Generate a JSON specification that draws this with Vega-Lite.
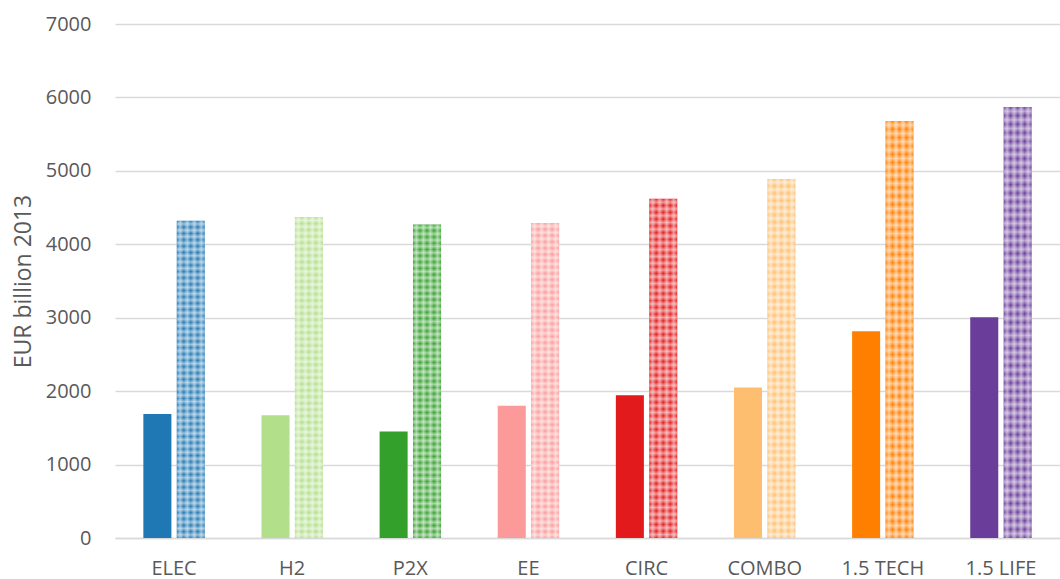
{
  "$schema": "https://vega.github.io/schema/vega-lite/v6.json",
  "autosize": {"type": "none"},
  "width": 945,
  "height": 514,
  "padding": {"left": 115, "top": 24, "right": 0, "bottom": 41},
  "background": "white",
  "config": {
    "view": {"stroke": null},
    "font": "Open Sans",
    "axis": {"labelFont": "Open Sans", "titleFont": "Open Sans", "labelColor": "#595959", "titleColor": "#595959"}
  },
  "data": {
    "values": [
      {"scenario": "ELEC", "type": "A", "value": 1690},
      {"scenario": "ELEC", "type": "B", "value": 4320},
      {"scenario": "H2", "type": "A", "value": 1670},
      {"scenario": "H2", "type": "B", "value": 4370},
      {"scenario": "P2X", "type": "A", "value": 1450},
      {"scenario": "P2X", "type": "B", "value": 4270},
      {"scenario": "EE", "type": "A", "value": 1800},
      {"scenario": "EE", "type": "B", "value": 4290},
      {"scenario": "CIRC", "type": "A", "value": 1945},
      {"scenario": "CIRC", "type": "B", "value": 4620},
      {"scenario": "COMBO", "type": "A", "value": 2050},
      {"scenario": "COMBO", "type": "B", "value": 4890},
      {"scenario": "1.5 TECH", "type": "A", "value": 2815},
      {"scenario": "1.5 TECH", "type": "B", "value": 5680},
      {"scenario": "1.5 LIFE", "type": "A", "value": 3005},
      {"scenario": "1.5 LIFE", "type": "B", "value": 5870}
    ]
  },
  "encoding": {
    "x": {
      "field": "scenario", "type": "nominal",
      "sort": ["ELEC", "H2", "P2X", "EE", "CIRC", "COMBO", "1.5 TECH", "1.5 LIFE"],
      "scale": {"paddingInner": 0.48, "paddingOuter": 0.24},
      "axis": {"title": null, "labelAngle": 0, "labelFontSize": 20, "labelPadding": 20, "ticks": false, "domainColor": "#d9d9d9", "domainWidth": 1.5, "grid": false}
    },
    "xOffset": {"field": "type", "type": "nominal", "scale": {"paddingInner": 0.16}},
    "y": {
      "field": "value", "type": "quantitative",
      "scale": {"domain": [0, 7000], "nice": false},
      "axis": {"title": "EUR billion 2013", "format": "d", "values": [0, 1000, 2000, 3000, 4000, 5000, 6000, 7000], "labelFontSize": 20, "titleFontSize": 23, "titleFontWeight": "normal", "labelPadding": 24, "titlePadding": 10, "ticks": false, "domain": false, "gridColor": "#d9d9d9", "gridWidth": 1.5}
    }
  },
  "layer": [
    {
      "mark": {"type": "bar"},
      "encoding": {
        "color": {
          "field": "scenario", "type": "nominal", "legend": null,
          "scale": {
            "domain": ["ELEC", "H2", "P2X", "EE", "CIRC", "COMBO", "1.5 TECH", "1.5 LIFE"],
            "range": ["#1f78b4", "#b2df8a", "#33a02c", "#fb9a99", "#e31a1c", "#fdbf6f", "#ff7f00", "#6a3d9a"]
          }
        }
      }
    },
    {
      "transform": [{"filter": "datum.type === 'B'"}],
      "mark": {
        "type": "bar",
        "color": {
          "gradient": "linear", "x1": 0, "y1": 0, "x2": 1, "y2": 0,
          "stops": [
            {"offset": 0, "color": "rgba(255,255,255,0)"},
            {"offset": 0.125, "color": "rgba(255,255,255,0.5)"},
            {"offset": 0.25, "color": "rgba(255,255,255,0)"},
            {"offset": 0.375, "color": "rgba(255,255,255,0.5)"},
            {"offset": 0.5, "color": "rgba(255,255,255,0)"},
            {"offset": 0.625, "color": "rgba(255,255,255,0.5)"},
            {"offset": 0.75, "color": "rgba(255,255,255,0)"},
            {"offset": 0.875, "color": "rgba(255,255,255,0.5)"},
            {"offset": 1, "color": "rgba(255,255,255,0)"}
          ]
        }
      }
    },
    {
      "transform": [{"filter": "datum.type === 'B'"}],
      "mark": {
        "type": "bar",
        "color": {
          "gradient": "linear", "x1": 0, "y1": 0, "x2": 0, "y2": 1,
          "stops": [
            {"offset": 0.00, "color": "rgba(255,255,255,0)"},
            {"offset": 0.01, "color": "rgba(255,255,255,0.5)"},
            {"offset": 0.02, "color": "rgba(255,255,255,0)"},
            {"offset": 0.03, "color": "rgba(255,255,255,0.5)"},
            {"offset": 0.04, "color": "rgba(255,255,255,0)"},
            {"offset": 0.05, "color": "rgba(255,255,255,0.5)"},
            {"offset": 0.06, "color": "rgba(255,255,255,0)"},
            {"offset": 0.07, "color": "rgba(255,255,255,0.5)"},
            {"offset": 0.08, "color": "rgba(255,255,255,0)"},
            {"offset": 0.09, "color": "rgba(255,255,255,0.5)"},
            {"offset": 0.10, "color": "rgba(255,255,255,0)"},
            {"offset": 0.11, "color": "rgba(255,255,255,0.5)"},
            {"offset": 0.12, "color": "rgba(255,255,255,0)"},
            {"offset": 0.13, "color": "rgba(255,255,255,0.5)"},
            {"offset": 0.14, "color": "rgba(255,255,255,0)"},
            {"offset": 0.15, "color": "rgba(255,255,255,0.5)"},
            {"offset": 0.16, "color": "rgba(255,255,255,0)"},
            {"offset": 0.17, "color": "rgba(255,255,255,0.5)"},
            {"offset": 0.18, "color": "rgba(255,255,255,0)"},
            {"offset": 0.19, "color": "rgba(255,255,255,0.5)"},
            {"offset": 0.20, "color": "rgba(255,255,255,0)"},
            {"offset": 0.21, "color": "rgba(255,255,255,0.5)"},
            {"offset": 0.22, "color": "rgba(255,255,255,0)"},
            {"offset": 0.23, "color": "rgba(255,255,255,0.5)"},
            {"offset": 0.24, "color": "rgba(255,255,255,0)"},
            {"offset": 0.25, "color": "rgba(255,255,255,0.5)"},
            {"offset": 0.26, "color": "rgba(255,255,255,0)"},
            {"offset": 0.27, "color": "rgba(255,255,255,0.5)"},
            {"offset": 0.28, "color": "rgba(255,255,255,0)"},
            {"offset": 0.29, "color": "rgba(255,255,255,0.5)"},
            {"offset": 0.30, "color": "rgba(255,255,255,0)"},
            {"offset": 0.31, "color": "rgba(255,255,255,0.5)"},
            {"offset": 0.32, "color": "rgba(255,255,255,0)"},
            {"offset": 0.33, "color": "rgba(255,255,255,0.5)"},
            {"offset": 0.34, "color": "rgba(255,255,255,0)"},
            {"offset": 0.35, "color": "rgba(255,255,255,0.5)"},
            {"offset": 0.36, "color": "rgba(255,255,255,0)"},
            {"offset": 0.37, "color": "rgba(255,255,255,0.5)"},
            {"offset": 0.38, "color": "rgba(255,255,255,0)"},
            {"offset": 0.39, "color": "rgba(255,255,255,0.5)"},
            {"offset": 0.40, "color": "rgba(255,255,255,0)"},
            {"offset": 0.41, "color": "rgba(255,255,255,0.5)"},
            {"offset": 0.42, "color": "rgba(255,255,255,0)"},
            {"offset": 0.43, "color": "rgba(255,255,255,0.5)"},
            {"offset": 0.44, "color": "rgba(255,255,255,0)"},
            {"offset": 0.45, "color": "rgba(255,255,255,0.5)"},
            {"offset": 0.46, "color": "rgba(255,255,255,0)"},
            {"offset": 0.47, "color": "rgba(255,255,255,0.5)"},
            {"offset": 0.48, "color": "rgba(255,255,255,0)"},
            {"offset": 0.49, "color": "rgba(255,255,255,0.5)"},
            {"offset": 0.50, "color": "rgba(255,255,255,0)"},
            {"offset": 0.51, "color": "rgba(255,255,255,0.5)"},
            {"offset": 0.52, "color": "rgba(255,255,255,0)"},
            {"offset": 0.53, "color": "rgba(255,255,255,0.5)"},
            {"offset": 0.54, "color": "rgba(255,255,255,0)"},
            {"offset": 0.55, "color": "rgba(255,255,255,0.5)"},
            {"offset": 0.56, "color": "rgba(255,255,255,0)"},
            {"offset": 0.57, "color": "rgba(255,255,255,0.5)"},
            {"offset": 0.58, "color": "rgba(255,255,255,0)"},
            {"offset": 0.59, "color": "rgba(255,255,255,0.5)"},
            {"offset": 0.60, "color": "rgba(255,255,255,0)"},
            {"offset": 0.61, "color": "rgba(255,255,255,0.5)"},
            {"offset": 0.62, "color": "rgba(255,255,255,0)"},
            {"offset": 0.63, "color": "rgba(255,255,255,0.5)"},
            {"offset": 0.64, "color": "rgba(255,255,255,0)"},
            {"offset": 0.65, "color": "rgba(255,255,255,0.5)"},
            {"offset": 0.66, "color": "rgba(255,255,255,0)"},
            {"offset": 0.67, "color": "rgba(255,255,255,0.5)"},
            {"offset": 0.68, "color": "rgba(255,255,255,0)"},
            {"offset": 0.69, "color": "rgba(255,255,255,0.5)"},
            {"offset": 0.70, "color": "rgba(255,255,255,0)"},
            {"offset": 0.71, "color": "rgba(255,255,255,0.5)"},
            {"offset": 0.72, "color": "rgba(255,255,255,0)"},
            {"offset": 0.73, "color": "rgba(255,255,255,0.5)"},
            {"offset": 0.74, "color": "rgba(255,255,255,0)"},
            {"offset": 0.75, "color": "rgba(255,255,255,0.5)"},
            {"offset": 0.76, "color": "rgba(255,255,255,0)"},
            {"offset": 0.77, "color": "rgba(255,255,255,0.5)"},
            {"offset": 0.78, "color": "rgba(255,255,255,0)"},
            {"offset": 0.79, "color": "rgba(255,255,255,0.5)"},
            {"offset": 0.80, "color": "rgba(255,255,255,0)"},
            {"offset": 0.81, "color": "rgba(255,255,255,0.5)"},
            {"offset": 0.82, "color": "rgba(255,255,255,0)"},
            {"offset": 0.83, "color": "rgba(255,255,255,0.5)"},
            {"offset": 0.84, "color": "rgba(255,255,255,0)"},
            {"offset": 0.85, "color": "rgba(255,255,255,0.5)"},
            {"offset": 0.86, "color": "rgba(255,255,255,0)"},
            {"offset": 0.87, "color": "rgba(255,255,255,0.5)"},
            {"offset": 0.88, "color": "rgba(255,255,255,0)"},
            {"offset": 0.89, "color": "rgba(255,255,255,0.5)"},
            {"offset": 0.90, "color": "rgba(255,255,255,0)"},
            {"offset": 0.91, "color": "rgba(255,255,255,0.5)"},
            {"offset": 0.92, "color": "rgba(255,255,255,0)"},
            {"offset": 0.93, "color": "rgba(255,255,255,0.5)"},
            {"offset": 0.94, "color": "rgba(255,255,255,0)"},
            {"offset": 0.95, "color": "rgba(255,255,255,0.5)"},
            {"offset": 0.96, "color": "rgba(255,255,255,0)"},
            {"offset": 0.97, "color": "rgba(255,255,255,0.5)"},
            {"offset": 0.98, "color": "rgba(255,255,255,0)"},
            {"offset": 0.99, "color": "rgba(255,255,255,0.5)"},
            {"offset": 1.00, "color": "rgba(255,255,255,0)"}
          ]
        }
      }
    }
  ]
}
